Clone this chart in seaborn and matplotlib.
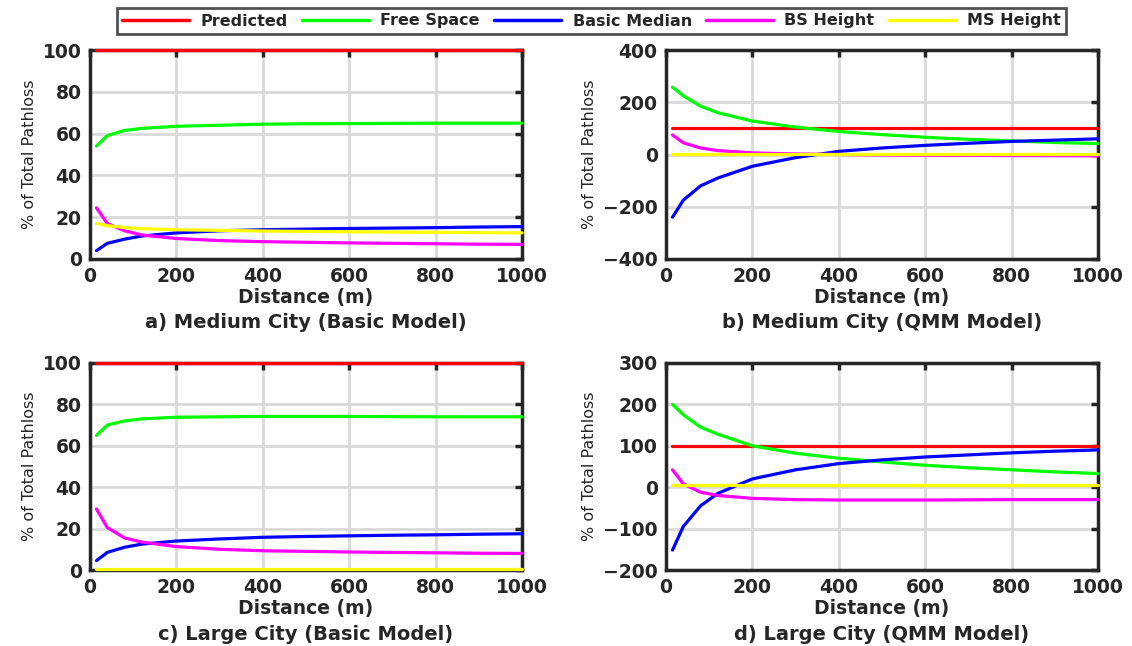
import numpy as np
import pandas as pd
import seaborn as sns
import matplotlib
matplotlib.use("Agg")
import matplotlib.pyplot as plt
from matplotlib.lines import Line2D

# ---------------- data ----------------
distance = [15, 40, 80, 120, 200, 300, 400, 500, 600, 700, 800, 900, 1000]
series_names = ["Predicted", "Free Space", "Basic Median", "BS Height", "MS Height"]
colors = ["#ff0000", "#00ff00", "#0000ff", "#ff00ff", "#ffff00"]

# a) Medium City (Basic Model)
a_predicted = [100] * 13
a_free = [54, 59, 61.5, 62.5, 63.5, 64, 64.5, 64.7, 64.8, 64.9, 65, 65, 65]
a_median = [4, 7.5, 9.5, 11, 12.5, 13.5, 14, 14.3, 14.6, 14.8, 15, 15.3, 15.5]
a_bs = [24.5, 17, 13.5, 11.5, 9.8, 8.8, 8.3, 8.0, 7.7, 7.5, 7.3, 7.1, 7.0]
a_ms = [17, 16, 15, 14.5, 14, 13.7, 13.4, 13.2, 13, 12.9, 12.8, 12.6, 12.5]

# b) Medium City (QMM Model)
b_predicted = [100] * 13
b_free = [258, 225, 185, 160, 128, 105, 88, 76, 66, 58, 52, 46, 42]
b_median = [-240, -175, -120, -90, -45, -12, 12, 25, 35, 43, 50, 55, 60]
b_bs = [75, 45, 25, 15, 6, 2, 0, -2, -3, -3.5, -4, -4.5, -5]
b_ms = [0.5] * 13

# c) Large City (Basic Model)
c_predicted = [100] * 13
c_free = [65, 70, 72, 73, 73.8, 74, 74.2, 74.2, 74.2, 74.1, 74, 74, 74]
c_median = [4.5, 8.5, 11, 12.5, 14, 15, 15.8, 16.2, 16.5, 16.8, 17, 17.3, 17.5]
c_bs = [29.5, 20.5, 15.5, 13.5, 11.3, 10, 9.3, 9.0, 8.7, 8.5, 8.3, 8.1, 8.0]
c_ms = [0.3] * 13

# d) Large City (QMM Model)
d_predicted = [100] * 13
d_free = [200, 175, 145, 128, 100, 82, 70, 61, 53, 47, 42, 37, 33]
d_median = [-152, -95, -45, -15, 20, 42, 57, 66, 73, 78, 83, 87, 90]
d_bs = [42, 8, -12, -20, -27, -30, -31, -31, -31, -30.5, -30, -30, -30]
d_ms = [5] * 13

panel_titles = ["a) Medium City (Basic Model)", "b) Medium City (QMM Model)",
                "c) Large City (Basic Model)", "d) Large City (QMM Model)"]
panel_data = [
    [a_predicted, a_free, a_median, a_bs, a_ms],
    [b_predicted, b_free, b_median, b_bs, b_ms],
    [c_predicted, c_free, c_median, c_bs, c_ms],
    [d_predicted, d_free, d_median, d_bs, d_ms],
]
y_limits = [(0, 100), (-400, 400), (0, 100), (-200, 300)]
y_steps = [20, 200, 20, 100]
x_ticks = [0, 200, 400, 600, 800, 1000]

# ---------------- figure ----------------
sns.set_theme(style="white")
plt.rcParams["font.family"] = ["DejaVu Sans"]
plt.rcParams["font.weight"] = "bold"

fig = plt.figure(figsize=(11.32, 6.46), dpi=100)
W, H = 1132, 646
boxes = [(90, 50, 522, 259), (666, 50, 1098, 259),
         (90, 363, 522, 570), (666, 363, 1098, 570)]
palette = dict(zip(series_names, colors))
txt = "#262626"

for i, (l, t, r, b) in enumerate(boxes):
    ax = fig.add_axes([l / W, 1 - b / H, (r - l) / W, (b - t) / H])
    rows = []
    for name, vals in zip(series_names, panel_data[i]):
        for x, v in zip(distance, vals):
            rows.append({"Distance": x, "Value": v, "Series": name})
    df = pd.DataFrame(rows)
    sns.lineplot(data=df, x="Distance", y="Value", hue="Series",
                 hue_order=series_names, palette=palette, linewidth=2.3,
                 ax=ax, legend=False)
    for ln in ax.get_lines():
        ln.set_zorder(3)
        ln.set_clip_on(False)
    ax.set_xlim(0, 1000)
    ax.set_ylim(*y_limits[i])
    ax.set_xticks(x_ticks)
    ax.set_yticks(np.arange(y_limits[i][0], y_limits[i][1] + 1, y_steps[i]))
    ax.grid(True, color="#d9d9d9", linewidth=2)
    ax.set_axisbelow(True)
    for s in ax.spines.values():
        s.set_color(txt)
        s.set_linewidth(2.5)
        s.set_zorder(2.5)
    ax.tick_params(axis="both", direction="in", length=5, width=2.5,
                   color=txt, top=True, right=True,
                   labelsize=13.5, labelcolor=txt, pad=6)
    for lab in ax.get_xticklabels() + ax.get_yticklabels():
        lab.set_fontweight("bold")
    ax.set_xlabel("Distance (m)", fontsize=13.5, fontweight="bold",
                  color=txt, labelpad=1)
    ax.set_ylabel("% of Total Pathloss", fontsize=11.5, color=txt,
                  fontweight="normal", labelpad=4)
    cx = (l + r) / 2 / W
    ty = 1 - (b + 64) / H
    fig.text(cx, ty, panel_titles[i], ha="center", va="center",
             fontsize=14, fontweight="bold", color=txt)

handles = [Line2D([], [], color=c, linewidth=2.5) for c in colors]
leg = fig.legend(handles, series_names, loc="center",
                 bbox_to_anchor=((115 + 1068) / 2 / W, 1 - 21 / H),
                 ncol=5, frameon=True, fancybox=False,
                 handlelength=4.2, columnspacing=0.9, handletextpad=0.7,
                 borderpad=0.35, prop={"weight": "bold", "size": 11.5})
leg.get_frame().set_edgecolor(txt)
leg.get_frame().set_linewidth(2)
for t in leg.get_texts():
    t.set_color(txt)

fig.savefig("out.png", dpi=100)
